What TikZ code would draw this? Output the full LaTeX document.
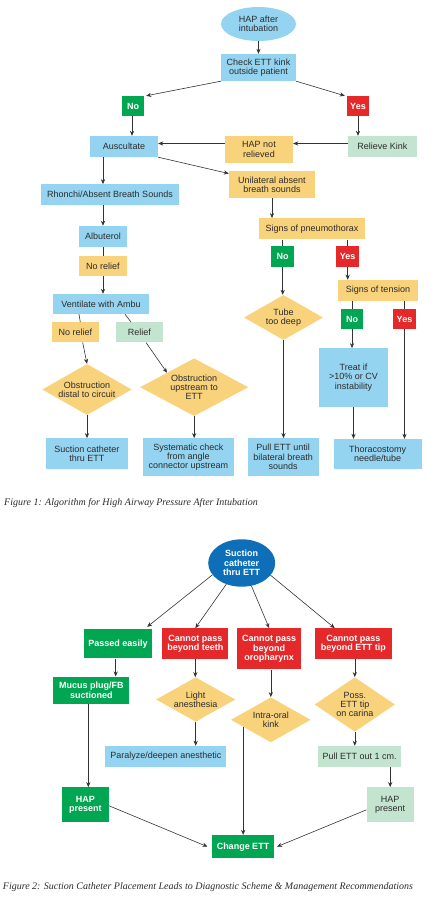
\documentclass[tikz,border=0pt]{standalone}
\usepackage{fontspec}
\setmainfont{Liberation Sans}
\newfontfamily\capfont{Liberation Serif}
\usetikzlibrary{shapes.geometric,arrows.meta,calc}
\definecolor{lblue}{HTML}{95D4F0}
\definecolor{orng}{HTML}{F9D27C}
\definecolor{grn}{HTML}{00A651}
\definecolor{rd}{HTML}{E5292B}
\definecolor{lgrn}{HTML}{C3E5D0}
\definecolor{dblue}{HTML}{0E6FB8}
\definecolor{txt}{HTML}{2B2B2B}
\definecolor{ln}{HTML}{333333}
\tikzset{
  base/.style={rectangle, inner sep=0pt, align=center, text=txt,
    font=\fontsize{9}{9.3}\selectfont},
  bl/.style={base, fill=lblue},
  org/.style={base, fill=orng},
  lg/.style={base, fill=lgrn},
  gbox/.style={base, fill=grn, text=white, font=\fontsize{9}{9.3}\selectfont\bfseries},
  rbox/.style={base, fill=rd, text=white, font=\fontsize{9}{9.3}\selectfont\bfseries},
  dia/.style={diamond, inner sep=0pt, fill=orng},
  dtext/.style={align=center, text=txt, inner sep=0pt, font=\fontsize{9}{9.3}\selectfont},
  arr/.style={draw=ln, line width=0.6pt, -{Stealth[length=5pt,width=4.2pt]}},
  lin/.style={draw=ln, line width=0.6pt},
  captext/.style={anchor=west, inner sep=0pt, text=txt, font=\capfont\itshape\fontsize{10}{12}\selectfont}
}
\begin{document}
\begin{tikzpicture}[x=1pt,y=-1pt]
\useasboundingbox (0,0) rectangle (444,915);
% ---------- Figure 1 ----------
\node[bl, ellipse, minimum width=75pt, minimum height=34pt] (hap) at (258.5,24) {HAP after\\intubation};
\node[bl, minimum width=75pt, minimum height=27pt] (chk) at (258.5,67.5) {Check ETT kink\\outside patient};
\node[gbox, minimum width=22pt, minimum height=20pt] (no1) at (133,106) {No};
\node[rbox, minimum width=22pt, minimum height=20pt] (yes1) at (358,106) {Yes};
\node[bl, minimum width=68pt, minimum height=21pt] (aus) at (124,146.5) {Auscultate};
\node[org, minimum width=68pt, minimum height=27pt] (hnr) at (259,149.5) {HAP not\\relieved};
\node[lg, minimum width=69pt, minimum height=21pt] (rk) at (382.5,146.5) {Relieve Kink};
\node[org, minimum width=86pt, minimum height=27.5pt] (uni) at (272,184.5) {Unilateral absent\\breath sounds};
\node[bl, minimum width=138pt, minimum height=20.7pt] (rh) at (110,194.7) {Rhonchi/Absent Breath Sounds};
\node[bl, minimum width=48pt, minimum height=20.7pt] (alb) at (103,236.3) {Albuterol};
\node[org, minimum width=48pt, minimum height=20.3pt] (nr1) at (103,266) {No relief};
\node[bl, minimum width=96pt, minimum height=20pt] (ven) at (101,304) {Ventilate with Ambu};
\node[org, minimum width=106pt, minimum height=21pt] (spn) at (312,228.8) {Signs of pneumothorax};
\node[gbox, minimum width=22.5pt, minimum height=21pt] (no2) at (282.7,256.2) {No};
\node[rbox, minimum width=22.5pt, minimum height=21pt] (yes2) at (347.7,256.2) {Yes};
\node[dia, minimum width=79pt, minimum height=45pt, label={[dtext]center:Tube\\too deep}] (ttd) at (283.5,317.5) {};
\node[org, minimum width=80pt, minimum height=20.7pt] (sot) at (378,290.3) {Signs of tension};
\node[gbox, minimum width=22pt, minimum height=20.3pt] (no3) at (352,319) {No};
\node[rbox, minimum width=22.5pt, minimum height=20.3pt] (yes3) at (404.5,319) {Yes};
\node[bl, minimum width=69pt, minimum height=58.4pt] (trt) at (353.5,377.5) {Treat if\\>10\% or CV\\instability};
\node[bl, minimum width=88pt, minimum height=30pt] (tho) at (377.7,454) {Thoracostomy\\needle/tube};
\node[bl, minimum width=71pt, minimum height=37.4pt] (pull) at (283.2,457) {Pull ETT until\\bilateral breath\\sounds};
\node[org, minimum width=47.3pt, minimum height=20pt] (nr2) at (75.3,332.3) {No relief};
\node[lg, minimum width=47.3pt, minimum height=20pt] (rel) at (139.3,332.3) {Relief};
\node[dia, minimum width=89.4pt, minimum height=51pt, label={[dtext]center:Obstruction\\distal to circuit}] (od) at (87,389.5) {};
\node[dia, minimum width=108.3pt, minimum height=57.7pt, label={[dtext]center:Obstruction\\upstream to\\ETT}] (ou) at (194.2,387.2) {};
\node[bl, minimum width=82.3pt, minimum height=30.4pt] (sc) at (86.8,453.5) {Suction catheter\\thru ETT};
\node[bl, minimum width=91.3pt, minimum height=37.4pt] (sys) at (188.3,457) {Systematic check\\from angle\\connector upstream};
\node[captext] (cap1) at (4,503) {Figure 1: Algorithm for High Airway Pressure After Intubation};
% connectors fig 1
\draw[arr] (hap.south) -- (chk.north);
\draw[arr] (chk.south west) -- ([xshift=2pt]no1.north east);
\draw[arr] (chk.south east) -- ([xshift=-2pt]yes1.north west);
\draw[arr] ([xshift=-1pt]no1.south) -- ([xshift=-1pt]no1.south |- aus.north);
\draw[arr] (yes1.south) -- (yes1.south |- rk.north);
\draw[arr] ([yshift=3pt]rk.west) -- ([yshift=3pt]rk.west -| hnr.east);
\draw[arr] ([yshift=3pt]rk.west -| hnr.west) -- ([yshift=3pt]rk.west -| aus.east);
\draw[arr] (aus.south east) -- ([yshift=-3pt]uni.north west);
\draw[arr] (aus.south -| alb) -- (rh.north -| alb);
\draw[arr] (rh.south -| alb) -- (alb.north);
\draw[lin] (alb.south) -- (nr1.north);
\draw[arr] (nr1.south) -- (nr1.south |- ven.north);
\draw[arr] (uni.south) -- (uni.south |- spn.north);
\draw[lin] (spn.south -| no2) -- (no2.north);
\draw[lin] (spn.south -| yes2) -- (yes2.north);
\draw[arr] (no2.south) -- (no2.south |- ttd.north);
\draw[arr] (yes2.south) -- (yes2.south |- sot.north);
\draw[lin] (sot.south -| no3) -- (no3.north);
\draw[lin] (sot.south -| yes3) -- (yes3.north);
\draw[arr] (no3.south) -- (no3.south |- trt.north);
\draw[arr] (trt.south) -- (trt.south |- tho.north);
\draw[arr] (yes3.south) -- (yes3.south |- tho.north);
\draw[arr] (ttd.south) -- (ttd.south |- pull.north);
\draw[lin] ([xshift=-22pt]ven.south) -- ([xshift=5pt]nr2.north);
\draw[lin] ([xshift=24pt]ven.south) -- ([xshift=-8.3pt]rel.north);
\draw[arr] ([xshift=7.4pt]nr2.south) -- (od.north);
\draw[arr] ([xshift=6.7pt]rel.south) -- (ou.north west);
\draw[arr] (od.south) -- (od.south |- sc.north);
\draw[arr] (ou.south) -- (ou.south |- sys.north);
% ---------- Figure 2 ----------
\node[base, ellipse, fill=dblue, text=white, font=\fontsize{9}{9.3}\selectfont\bfseries, minimum width=67pt, minimum height=47.4pt] (se) at (241.7,563) {Suction\\catheter\\thru ETT};
\node[gbox, minimum width=68pt, minimum height=29.3pt] (pe) at (118,643.7) {Passed easily};
\node[rbox, minimum width=66pt, minimum height=30.7pt] (ct) at (195.3,643.7) {Cannot pass\\beyond teeth};
\node[rbox, minimum width=63.7pt, minimum height=41pt] (co) at (269.2,648.8) {Cannot pass\\beyond\\oropharynx};
\node[rbox, minimum width=76.7pt, minimum height=30.7pt] (ce) at (353.3,643.7) {Cannot pass\\beyond ETT tip};
\node[gbox, minimum width=76pt, minimum height=27.3pt] (mu) at (91.3,690.3) {Mucus plug/FB\\suctioned};
\node[gbox, minimum width=47.3pt, minimum height=35pt] (hp1) at (85.3,804.8) {HAP\\present};
\node[dia, minimum width=79.3pt, minimum height=44.4pt, label={[dtext]center:Light\\anesthesia}] (la) at (195.7,699.5) {};
\node[bl, minimum width=121pt, minimum height=20.7pt] (pa) at (165.8,756.3) {Paralyze/deepen anesthetic};
\node[dia, minimum width=79.7pt, minimum height=45pt, label={[dtext]center:Intra-oral\\kink}] (ik) at (270.8,719.8) {};
\node[dia, minimum width=80.3pt, minimum height=54.4pt, label={[dtext]center:Poss.\\ETT tip\\on carina}] (pc) at (354.8,704.5) {};
\node[lg, minimum width=83.3pt, minimum height=20.7pt] (pu) at (359.7,756.3) {Pull ETT out 1 cm.};
\node[lg, minimum width=47pt, minimum height=35pt] (hp2) at (390.2,804.8) {HAP\\present};
\node[gbox, minimum width=62.7pt, minimum height=23.3pt] (ch) at (243,846.7) {Change ETT};
\node[captext] (cap2) at (2.7,886.7) {Figure 2: Suction Catheter Placement Leads to Diagnostic Scheme \& Management Recommendations};
% connectors fig 2
\draw[arr] (se.202) -- ([xshift=-5pt,yshift=2pt]pe.north east);
\draw[arr] (se.234) -- (ct.north);
\draw[arr] (se.293) -- (co.north);
\draw[arr] (se.337) -- ([xshift=20pt]ce.north west);
\draw[arr] ([xshift=-2.3pt]pe.south) -- ([xshift=-2.3pt]pe.south |- mu.north);
\draw[arr] ([xshift=-3pt]mu.south) -- ([xshift=-3pt]mu.south |- hp1.north);
\draw[arr] (ct.south) -- (ct.south |- la.north);
\draw[arr] (la.south) -- (la.south |- pa.north);
\draw[arr] (co.south -| ik) -- (ik.north);
\coordinate (ikl) at ($(ik.west)!0.31!(ik.south)$);
\draw[arr] (ikl) -- (ikl |- ch.north);
\draw[arr] (ce.south -| pc) -- (pc.north);
\draw[arr] (pc.south) -- (pc.south |- pu.north);
\draw[arr] (pu.south -| hp2) -- (hp2.north);
\draw[arr] ([yshift=-1pt]hp1.east) -- ([xshift=-4pt]ch.west);
\draw[arr] ([yshift=-5pt]hp2.west) -- ([xshift=2.4pt]ch.east);
\end{tikzpicture}
\end{document}
